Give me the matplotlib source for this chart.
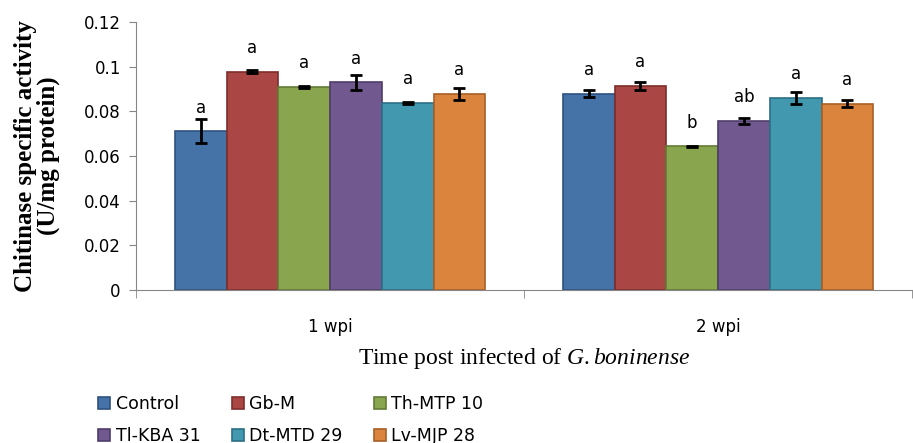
import matplotlib.pyplot as plt
import numpy as np

# data
groups = ["1 wpi", "2 wpi"]
treatments = ["Control", "Gb-M", "Th-MTP 10", "Tl-KBA 31", "Dt-MTD 29", "Lv-MJP 28"]
wk1 = [0.0712, 0.0978, 0.0910, 0.0930, 0.0838, 0.0878]
wk1_err = [0.0055, 0.0007, 0.0003, 0.0032, 0.0003, 0.0026]
wk2 = [0.0879, 0.0914, 0.0644, 0.0757, 0.0860, 0.0834]
wk2_err = [0.0015, 0.0017, 0.0003, 0.0015, 0.0026, 0.0016]
wk1_letters = ["a", "a", "a", "a", "a", "a"]
wk2_letters = ["a", "a", "b", "ab", "a", "a"]

colors = ["#4572A7", "#AA4643", "#89A54E", "#71588F", "#4198AF", "#DB843D"]
edges = ["#2F5280", "#7E2E2C", "#637A35", "#503D6A", "#2C7085", "#A85F25"]

plt.rcParams["mathtext.fontset"] = "custom"
plt.rcParams["mathtext.rm"] = "Liberation Serif"
plt.rcParams["mathtext.it"] = "Liberation Serif:italic"

fig = plt.figure(figsize=(9.13, 4.43), dpi=100)
ax = fig.add_axes([0.149, 0.345, 0.85, 0.605])

vals = np.array([wk1, wk2])
errs = np.array([wk1_err, wk2_err])
lets = [wk1_letters, wk2_letters]
x = np.arange(len(groups))
w = 0.8 / len(treatments)

handles = []
for i, name in enumerate(treatments):
    pos = x - 0.4 + w * (i + 0.5)
    b = ax.bar(pos, vals[:, i], w, color=colors[i], edgecolor=edges[i], linewidth=1.2, label=name)
    handles.append(b)
    ax.errorbar(pos, vals[:, i], yerr=errs[:, i], fmt="none", ecolor="black",
                elinewidth=2, capsize=4, capthick=2)
    for g in range(len(groups)):
        ax.annotate(lets[g][i], (pos[g], vals[g, i]), xytext=(0, 17),
                    textcoords="offset points", ha="center", va="center", fontsize=12)

ax.set_xlim(-0.5, 1.5)
ax.set_ylim(0, 0.12)
ax.set_yticks(np.arange(0, 0.121, 0.02))
ax.set_yticklabels(["0", "0.02", "0.04", "0.06", "0.08", "0.1", "0.12"], fontsize=12)
ax.set_xticks(x)
ax.set_xticklabels(groups, fontsize=12)
ax.tick_params(axis="x", length=0, pad=20)
ax.set_xticks([-0.5, 0.5, 1.5], minor=True)
ax.tick_params(axis="x", which="minor", length=6, color="#868686")
ax.tick_params(axis="y", length=5, color="#868686", pad=6)

for s in ["top", "right"]:
    ax.spines[s].set_visible(False)
for s in ["left", "bottom"]:
    ax.spines[s].set_color("#868686")

ax.set_ylabel("Chitinase specific activity\n(U/mg protein)", fontsize=18,
              fontweight="bold", family="Liberation Serif", labelpad=17, linespacing=1.0)
ax.set_xlabel("Time post infected of $\\it{G.boninense}$", fontsize=17,
              family="Liberation Serif", labelpad=7)

# legend filled row by row, as in the reference
order = [0, 3, 1, 4, 2, 5]
ax.legend([handles[k] for k in order], [treatments[k] for k in order],
          loc="upper left", bbox_to_anchor=(-0.062, -0.352), ncol=3,
          frameon=False, fontsize=12.5, handlelength=0.7, handleheight=0.7,
          columnspacing=1.8, labelspacing=0.8, handletextpad=0.3,
          borderaxespad=0.2)

plt.savefig("out.png", dpi=100)
